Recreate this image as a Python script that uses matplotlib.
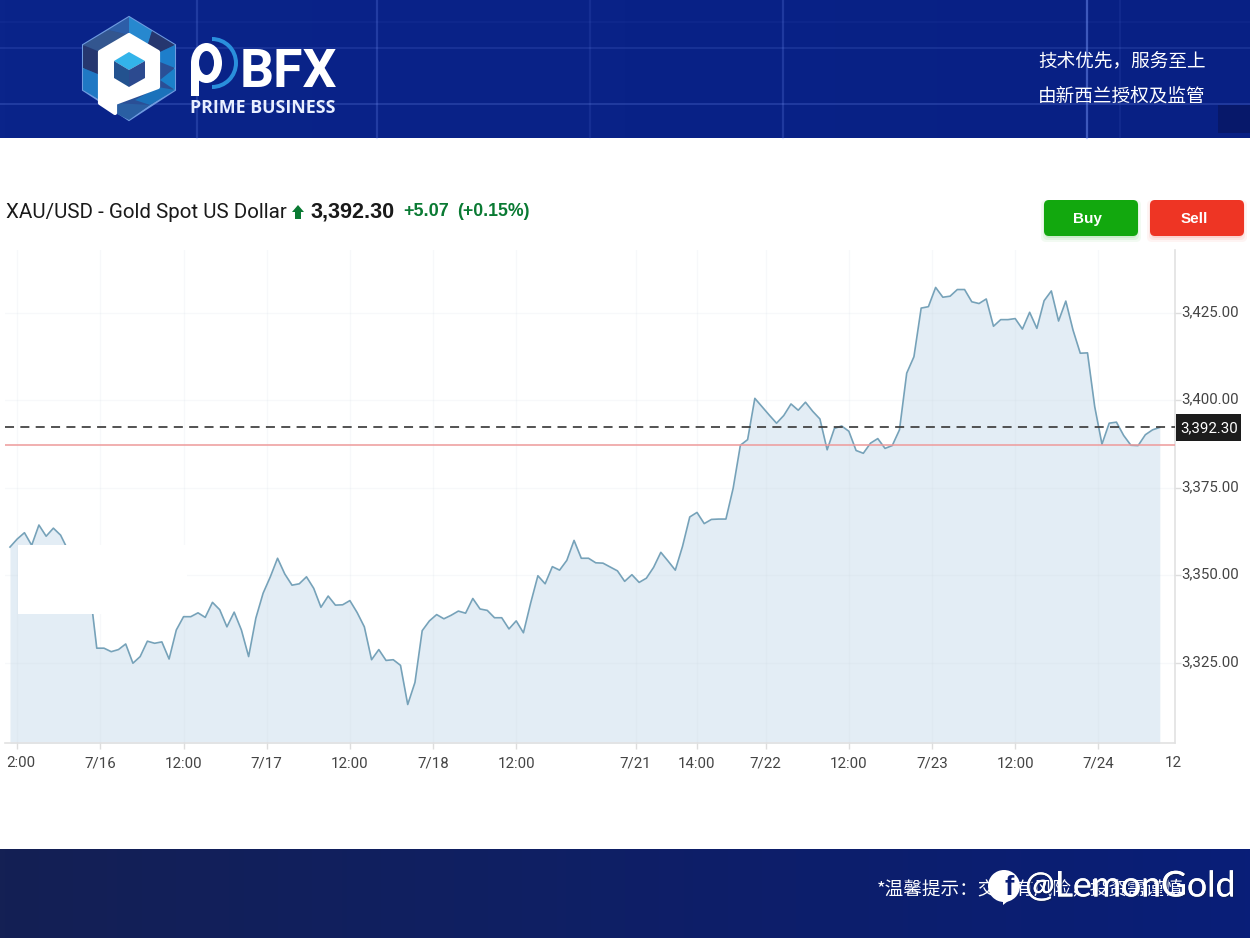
import matplotlib
matplotlib.use("Agg")
import matplotlib.pyplot as plt
import matplotlib.patheffects as pe
from matplotlib.patches import Polygon, Rectangle, FancyBboxPatch, Wedge, Ellipse
from matplotlib.transforms import ScaledTranslation
import numpy as np

CJK = ['Noto Sans CJK SC', 'DejaVu Sans']
LABEL_FONT = 'Roboto'

# closes, the four after 3361.5 sit behind the white patch
prices = [
    3358.1, 3360.4, 3362.2, 3358.6, 3364.4, 3361.2, 3363.5, 3361.5,
    3357.3, 3355.3, 3349.5, 3346.7,
    3329.2, 3329.2, 3328.2, 3328.8, 3330.4, 3324.9, 3326.8, 3331.2, 3330.6, 3331.0,
    3326.1, 3334.4, 3338.2, 3338.2, 3339.3, 3338.0, 3342.3, 3340.2, 3335.3, 3339.5,
    3334.4, 3326.8, 3337.8, 3344.9, 3349.6, 3354.9, 3350.4, 3347.2, 3347.6, 3349.6,
    3346.3, 3340.9, 3344.1, 3341.5, 3341.6, 3342.8, 3339.4, 3335.3, 3325.9, 3328.8,
    3325.7, 3325.9, 3324.3, 3313.1, 3319.4, 3334.2, 3337.0,
    3338.8, 3337.6, 3338.6, 3339.8, 3339.2, 3343.4, 3340.4, 3340.0, 3337.9, 3337.9,
    3334.7, 3337.0, 3333.6, 3342.1, 3349.9, 3347.6, 3352.5, 3351.5, 3354.3, 3360.0,
    3354.9, 3354.9, 3353.6, 3353.5, 3352.4, 3351.3, 3348.3, 3350.2, 3348.0, 3349.2,
    3352.3, 3356.6, 3354.1, 3351.5, 3358.3, 3366.7, 3368.0, 3364.8, 3366.0, 3366.1,
    3366.1, 3374.9, 3387.2,
    3388.8, 3400.6, 3398.2, 3395.8, 3393.5, 3395.7, 3399.0, 3397.2, 3399.5, 3396.9,
    3394.7, 3385.9, 3392.0, 3392.7, 3391.2, 3385.7, 3384.9, 3387.8, 3389.1, 3386.3,
    3387.1, 3391.6, 3407.8, 3412.5, 3426.4, 3426.8, 3432.3, 3429.5, 3429.8, 3431.7,
    3431.7, 3428.2, 3427.7, 3429.0, 3421.2, 3423.1, 3423.1, 3423.4, 3420.4, 3425.2,
    3420.6, 3428.5, 3431.3, 3422.7, 3428.4, 3420.1, 3413.5, 3413.6, 3398.2, 3387.5,
    3393.5, 3393.8, 3390.0, 3387.2, 3387.1, 3390.2, 3391.6, 3392.3,
]
y_ticks = [3325, 3350, 3375, 3400, 3425]
x_ticks = [1, 12.5, 24, 35.5, 47, 58.5, 70, 86.5, 95, 104.5, 116, 127.5, 139, 150.5]
x_labels = ['', '7/16', '12:00', '7/17', '12:00', '7/18', '12:00', '7/21', '14:00',
            '7/22', '12:00', '7/23', '12:00', '7/24']
last_price = 3392.30
prev_close = 3387.3

W, H = 1250, 938
fig = plt.figure(figsize=(W / 100, H / 100), dpi=100, facecolor='white')

# chart
ax = fig.add_axes([5 / W, 1 - 743 / H, 1170 / W, 493 / H])
x = np.arange(len(prices))
ax.fill_between(x, prices, 3302, color='#e3edf5', lw=0, zorder=1)
ax.plot(x, prices, color='#76a2b9', lw=1.2, zorder=3)
ax.axhline(prev_close, color='#ee9a9a', lw=1.1, zorder=4)
ax.axhline(last_price, color='#444444', lw=1.3, dashes=(5, 3.5), zorder=4)
ax.set_xlim(-0.69, 161.1)
ax.set_ylim(3302.1, 3443)
ax.set_xticks(x_ticks, x_labels)
ax.set_yticks(y_ticks, ['{:,.2f}'.format(v) for v in y_ticks])
ax.yaxis.tick_right()
ax.grid(True, color='#c8d4de', alpha=0.14, lw=0.9, zorder=2)
ax.set_axisbelow(False)
for s in ['top', 'left']:
    ax.spines[s].set_visible(False)
for s in ['right', 'bottom']:
    ax.spines[s].set_color('#e2e2e2')
    ax.spines[s].set_linewidth(1.2)
ax.tick_params(axis='x', length=4, width=1, color='#dddddd', pad=6, labelcolor='#444444')
ax.tick_params(axis='y', length=4, width=1, color='#dddddd', pad=0.5, labelcolor='#444444')
for t in ax.get_xticklabels() + ax.get_yticklabels():
    t.set_family(LABEL_FONT)
    t.set_fontsize(10.8)
up = ScaledTranslation(0, 2.5 / 100, fig.dpi_scale_trans)
for t in ax.get_yticklabels():
    t.set_transform(t.get_transform() + up)

# everything around the chart lives on a pixel overlay
ov = fig.add_axes([0, 0, 1, 1], zorder=5)
ov.set_xlim(0, W)
ov.set_ylim(H, 0)
ov.axis('off')
ov.patch.set_alpha(0)

# top banner
grad = np.linspace(0, 1, 256).reshape(1, -1, 1)
c1 = np.array([10, 36, 138]) / 255
c2 = np.array([8, 32, 132]) / 255
ov.imshow(c1 + (c2 - c1) * grad, extent=(0, W, 138, 0), aspect='auto', zorder=1)
for yy, a in [(48, 0.14), (104, 0.22), (22, 0.05)]:
    ov.plot([0, W], [yy, yy], color='#7f9dff', lw=1.3, alpha=a, zorder=2)
for xx, a in [(197, 0.2), (377, 0.22), (590, 0.1), (783, 0.2), (1087, 0.45), (1120, 0.08)]:
    ov.plot([xx, xx], [0, 138], color='#7f9dff', lw=1.6, alpha=a, zorder=2)
ov.add_patch(Rectangle((1218, 105), 32, 28, fc='#07186a', ec='none', zorder=2))

# bottom banner
c1 = np.array([20, 32, 84]) / 255
c2 = np.array([9, 30, 120]) / 255
ov.imshow(c1 + (c2 - c1) * grad, extent=(0, W, H, 849), aspect='auto', zorder=1)
ov.set_xlim(0, W)
ov.set_ylim(H, 0)

# patch that hides part of the series in the source picture
ov.add_patch(Rectangle((18, 545), 169, 69, fc='white', ec='none', zorder=1))

# logo
ov.add_patch(Polygon([(129, 17), (175, 45), (175, 90), (129, 120), (83, 90), (83, 45)],
                     fc='#2a4f96', ec='#6f9be0', lw=1.5, zorder=3))
facets = [
    ([(129, 17), (152, 31), (148, 44), (129, 35)], '#2788cf'),
    ([(152, 31), (175, 45), (160, 52), (148, 44)], '#26376f'),
    ([(175, 45), (175, 68), (160, 62), (160, 52)], '#1d7ecb'),
    ([(175, 68), (175, 90), (160, 80)], '#1b80c9'),
    ([(129, 17), (108, 30), (129, 35)], '#2d5ea8'),
    ([(108, 30), (83, 45), (100, 52), (129, 35)], '#33568f'),
    ([(83, 45), (83, 68), (100, 75), (100, 52)], '#26376f'),
    ([(83, 68), (83, 90), (100, 100), (100, 75)], '#1f78c4'),
    ([(158, 87), (175, 90), (150, 105), (135, 100)], '#1b72bb'),
    ([(115, 103), (150, 105), (129, 120), (115, 113)], '#2a5fa3'),
]
for pts, col in facets:
    ov.add_patch(Polygon(pts, fc=col, ec='none', zorder=4))
ov.add_patch(Polygon([(129, 35), (158, 52), (158, 87), (115, 103), (115, 113), (100, 103), (100, 52)],
                     fc='white', ec='white', lw=3, joinstyle='round', zorder=5))
ov.add_patch(Polygon([(129, 52), (145, 61), (129, 70), (114, 61)], fc='#33b4ea', ec='none', zorder=6))
ov.add_patch(Polygon([(114, 61), (129, 70), (129, 87), (114, 78)], fc='#23528f', ec='none', zorder=6))
ov.add_patch(Polygon([(145, 61), (145, 78), (129, 87), (129, 70)], fc='#2c4a8f', ec='none', zorder=6))

# stylised p of the word mark
ov.add_patch(Wedge((212, 63), 26, -90, 90, width=4, fc='#2a8fdc', ec='none', zorder=4))
ov.add_patch(Ellipse((206.5, 63), 31, 40, fc='white', ec='none', zorder=5))
ov.add_patch(Ellipse((206.5, 63), 15, 24, fc='#0a2488', ec='none', zorder=6))
ov.add_patch(Rectangle((191, 62), 8, 34, fc='white', ec='none', zorder=6))
ov.text(240, 87, 'BFX', color='white', family='Roboto', weight='bold', fontsize=38.5, va='baseline', ha='left', zorder=5)
ov.text(190, 113, 'PRIME BUSINESS', color='#e8eeff', family='Open Sans', weight='bold', fontsize=12.8,
        va='baseline', ha='left', zorder=5)

# banner captions
ov.text(1038, 61, '技术优先，服务至上', color='white', family=CJK, fontsize=13.4, va='center', ha='left', zorder=5)
ov.text(1038, 97, '由新西兰授权及监管', color='white', family=CJK, fontsize=13.4, va='center', ha='left', zorder=5)
ov.text(877, 889, '*温馨提示：交易有风险，投资需谨慎', color='white', family=CJK, fontsize=13.4, va='center', ha='left', zorder=5)

# watermark
ov.add_patch(Wedge((1004, 886), 16, 0, 360, fc='white', ec='none', zorder=6))
ov.add_patch(Polygon([(1003, 898), (1012, 898), (1003, 905)], fc='white', ec='none', zorder=6))
ov.text(1009, 888, 'f', color='#0b1f78', family='Liberation Sans', weight='bold', fontsize=20, va='center', ha='center', zorder=7)
ov.text(1025, 886, '@LemonGold', color='white', family='Lato', fontsize=25.6, va='center', ha='left', zorder=7,
        path_effects=[pe.withSimplePatchShadow(offset=(1, -1), shadow_rgbFace='#10205a', alpha=0.8), pe.Normal()])

# header line of the chart
ov.text(6, 212, 'XAU/USD - Gold Spot US Dollar', color='#1a1a1a', family=LABEL_FONT, fontsize=14.8, va='center', ha='left', zorder=5)
ov.add_patch(Polygon([(298, 205), (304, 212), (301, 212), (301, 219), (295, 219), (295, 212), (292, 212)],
                     fc='#0a7a33', ec='none', zorder=5))
ov.text(311, 212, '3,392.30', color='#1a1a1a', family='Liberation Sans', weight='bold', fontsize=15.6, va='center', ha='left', zorder=5)
ov.text(403, 212, '+5.07', color='#0a7a33', family='Liberation Sans', weight='bold', fontsize=13, va='center', ha='left', zorder=5)
ov.text(457, 212, '(+0.15%)', color='#0a7a33', family='Liberation Sans', weight='bold', fontsize=12.7, va='center', ha='left', zorder=5)

# buttons
for bx, col, label, tx in [(1044, '#12a80e', 'Buy', 1088), (1150, '#ee3524', 'Sell', 1194.5)]:
    for grow, a in [(6, 0.05), (4, 0.07), (2, 0.1)]:
        ov.add_patch(FancyBboxPatch((bx + 3 - grow, 206 - grow), 88 + 2 * grow, 30 + 2 * grow,
                                    boxstyle='round,pad=0,rounding_size=5', fc=col, ec='none', alpha=a, zorder=3))
    ov.add_patch(FancyBboxPatch((bx + 3, 203), 88, 30, boxstyle='round,pad=3,rounding_size=5',
                                fc=col, ec='none', zorder=4))
    ov.text(tx, 219, label, color='white', family='Liberation Sans', weight='bold', fontsize=11,
            va='center', ha='center', zorder=5)

# last price tag
ov.add_patch(Rectangle((1176, 414), 65, 27, fc='#1c1c1c', ec='none', zorder=3))
ov.text(1209, 428, '{:,.2f}'.format(last_price), color='white', family=LABEL_FONT, fontsize=10.8,
        va='center', ha='center', zorder=5)

# clipped end labels of the time axis
ov.text(21, 763, '2:00', color='#444444', family=LABEL_FONT, fontsize=10.8, va='center', ha='center', zorder=5)
ov.text(1165, 763, '12', color='#444444', family=LABEL_FONT, fontsize=10.8, va='center', ha='left', zorder=5)

fig.savefig('out.png', dpi=100)
